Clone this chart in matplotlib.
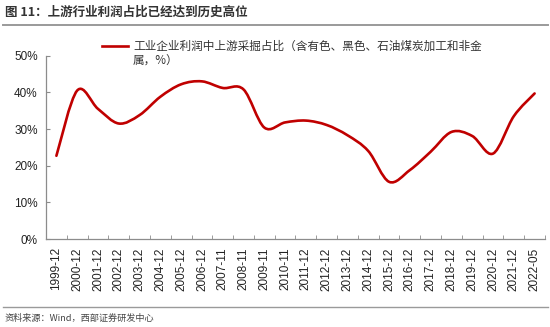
import matplotlib
matplotlib.use("Agg")
import matplotlib.pyplot as plt
import numpy as np
from matplotlib.path import Path
from matplotlib.patches import PathPatch
from matplotlib.lines import Line2D

plt.rcParams["font.family"] = ["Liberation Sans", "Noto Sans CJK SC", "DejaVu Sans"]

# period labels (year-end, a few November readings, latest May 2022)
periods = ["1999-12", "2000-12", "2001-12", "2002-12", "2003-12", "2004-12",
           "2005-12", "2006-12", "2007-11", "2008-11", "2009-11", "2010-11",
           "2011-12", "2012-12", "2013-12", "2014-12", "2015-12", "2016-12",
           "2017-12", "2018-12", "2019-12", "2020-12", "2021-12", "2022-05"]
# upstream mining share of industrial profits, %
share = [22.7, 40.5, 35.5, 31.5, 33.8, 38.8, 42.2, 43.0, 41.2, 40.8, 30.4, 31.8,
         32.3, 31.1, 28.3, 24.0, 15.6, 18.8, 23.8, 29.2, 28.1, 23.3, 33.5, 39.7]
yticks = [0, 10, 20, 30, 40, 50]

RED = "#C00000"
AXC = "#8c8c8c"
CJK = ["Noto Sans CJK SC", "DejaVu Sans"]


def smooth_path(x, y):
    """Excel-style smoothed line: cubic Bezier through every point."""
    pts = np.column_stack([x, y]).astype(float)
    ext = np.vstack([pts[0], pts, pts[-1]])
    verts = [pts[0]]
    codes = [Path.MOVETO]
    for i in range(len(pts) - 1):
        p0, p1, p2, p3 = ext[i], ext[i + 1], ext[i + 2], ext[i + 3]
        c1 = p1 + (p2 - p0) / 6.0
        c2 = p2 - (p3 - p1) / 6.0
        verts += [c1, c2, p2]
        codes += [Path.CURVE4] * 3
    return Path(verts, codes)


fig = plt.figure(figsize=(5.5, 3.27), dpi=100)
ax = fig.add_axes([46 / 550, 88 / 327, 499 / 550, 183.3 / 327])

x = np.arange(len(periods))
ax.add_patch(PathPatch(smooth_path(x, share), facecolor="none", edgecolor=RED,
                       lw=1.9, capstyle="round", joinstyle="round"))

ax.set_xlim(-0.5, len(periods) - 0.5)
ax.set_ylim(0, 50)
for s in ("top", "right"):
    ax.spines[s].set_visible(False)
for s in ("left", "bottom"):
    ax.spines[s].set_color(AXC)
    ax.spines[s].set_linewidth(0.9)

ax.set_yticks(yticks)
ax.set_yticklabels([f"{v}%" for v in yticks])
ax.tick_params(axis="y", direction="in", length=3, color=AXC, labelsize=8.5,
               labelcolor="#222222", pad=6)

# category boundaries get the tick marks, labels sit in the middle
ax.set_xticks(x + 0.5, minor=True)
ax.set_xticks(x)
ax.set_xticklabels(periods, rotation=90)
ax.tick_params(axis="x", which="major", length=0, labelsize=8.5,
               labelcolor="#222222", pad=6)
ax.tick_params(axis="x", which="minor", direction="in", length=3, color=AXC)

# legend, wrapped onto two lines
fig.add_artist(Line2D([102 / 550, 128 / 550], [1 - 46 / 327, 1 - 46 / 327],
                      color=RED, lw=1.9, transform=fig.transFigure))
fig.text(133 / 550, 1 - 46 / 327,
         "工业企业利润中上游采掘占比（含有色、黑色、石油煤炭加工和非金",
         family=CJK, fontsize=8.4, color="#333333", va="center", ha="left")
fig.text(133 / 550, 1 - 61 / 327, "属，%）",
         family=CJK, fontsize=8.4, color="#333333", va="center", ha="left")

# header and footer
fig.text(5 / 550, 1 - 12 / 327, "图 11：上游行业利润占比已经达到历史高位",
         family=CJK, fontsize=9, fontweight="bold", color="#333333",
         va="center", ha="left")
fig.add_artist(Line2D([3 / 550, 548 / 550], [1 - 25 / 327, 1 - 25 / 327],
                      color="#9a9a9a", lw=1.4, transform=fig.transFigure))
fig.add_artist(Line2D([3 / 550, 548 / 550], [1 - 306.5 / 327, 1 - 306.5 / 327],
                      color="#9a9a9a", lw=1.0, transform=fig.transFigure))
fig.text(5 / 550, 1 - 318 / 327, "资料来源：Wind，西部证券研发中心",
         family=CJK, fontsize=6.6, color="#444444", va="center", ha="left")

fig.savefig("out.png", dpi=100)
